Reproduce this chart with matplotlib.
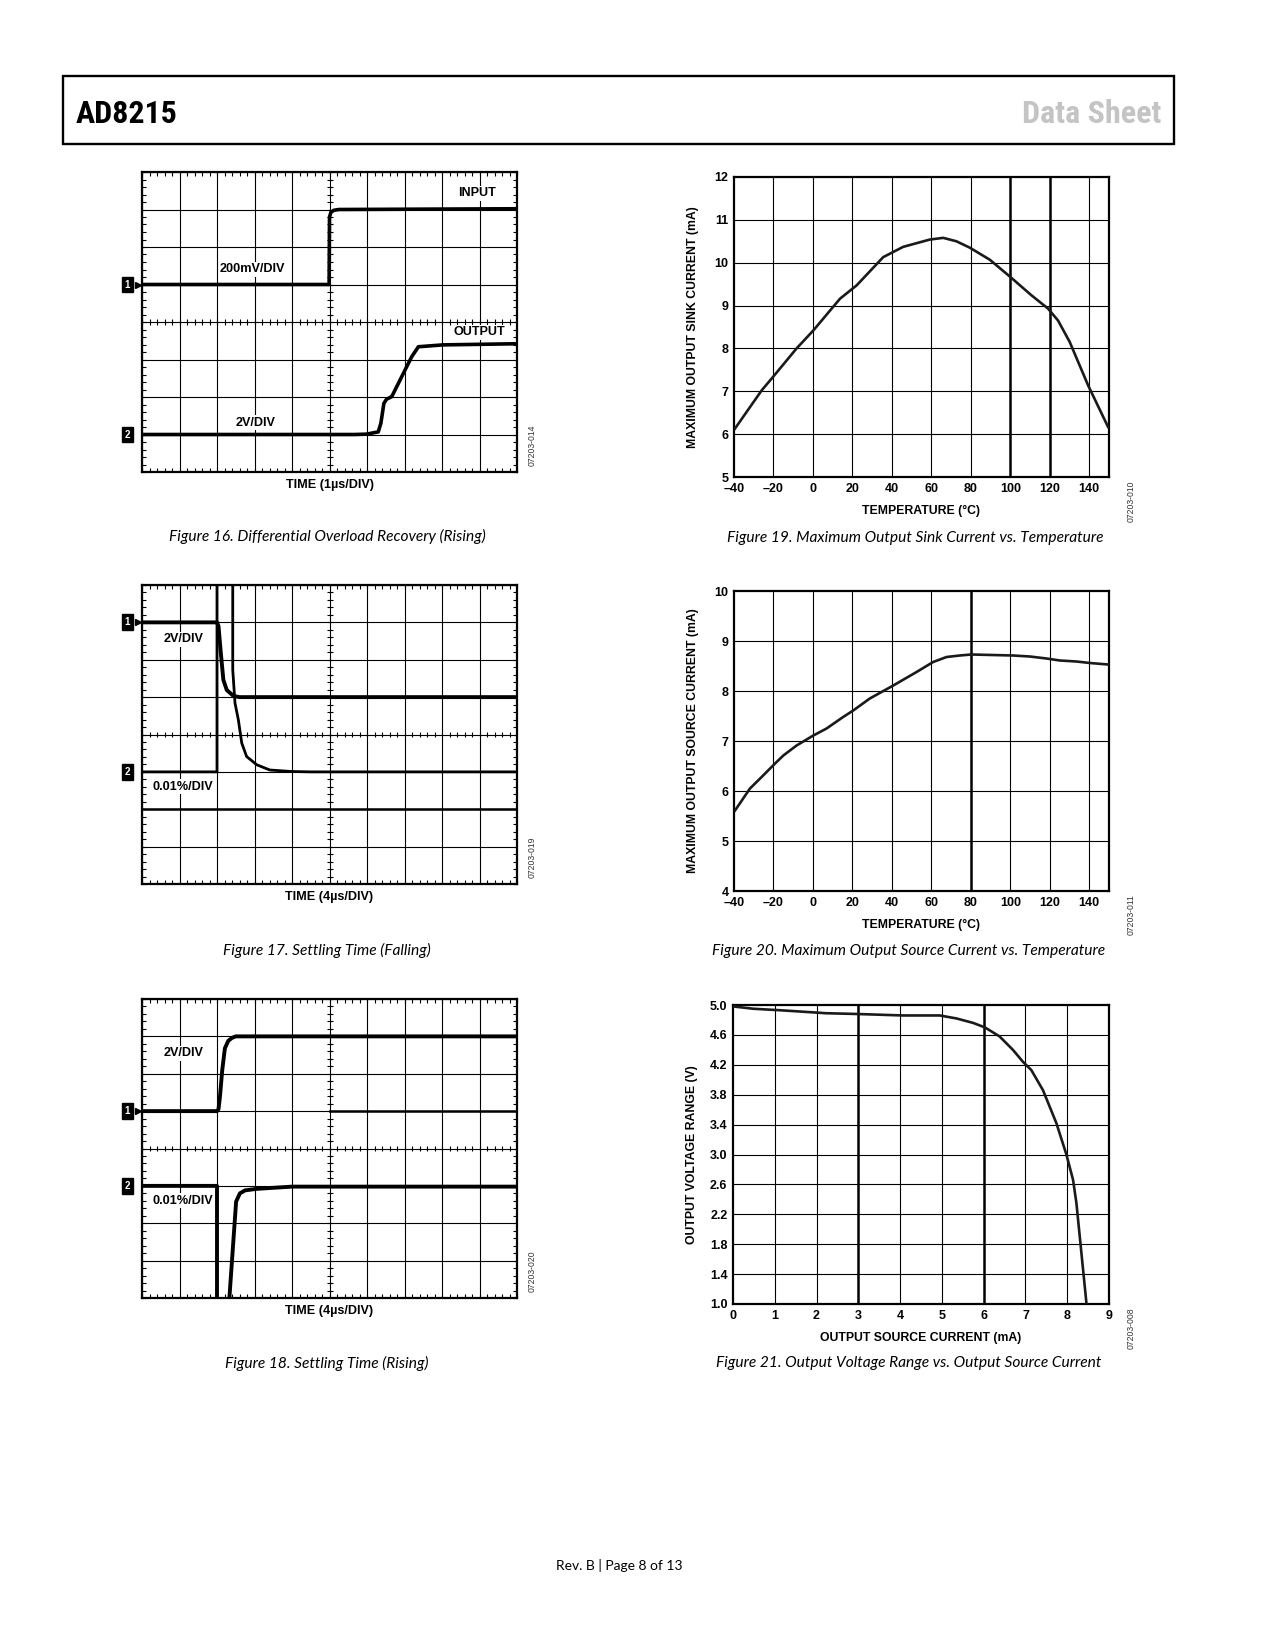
import numpy as np
import matplotlib
matplotlib.use("Agg")
import matplotlib.pyplot as plt
from matplotlib import font_manager
from matplotlib.collections import LineCollection
from matplotlib.patches import Rectangle
from matplotlib.transforms import blended_transform_factory

W, H = 1275, 1650

# ---- Figure 16: differential overload recovery (divisions) ----
fig16_in_t = [0, 4.99, 5.0, 5.04, 5.12, 5.25, 10]
fig16_in_v = [5.0, 5.0, 6.8, 6.93, 6.98, 7.0, 7.02]
fig16_out_t = [0, 5.68, 5.99, 6.3, 6.37, 6.45, 6.52, 6.66, 7.19, 7.37, 8.03, 10]
fig16_out_v = [1.0, 1.0, 1.01, 1.07, 1.3, 1.83, 1.94, 2.01, 3.07, 3.34, 3.39, 3.42]

# ---- Figure 17: settling time, falling ----
fig17_ch1_t = [0, 2.0, 2.04, 2.1, 2.17, 2.26, 2.44, 2.6, 10]
fig17_ch1_v = [7.0, 7.0, 6.9, 6.2, 5.46, 5.19, 5.03, 5.0, 5.0]
fig17_ch2_t = [0, 2.0, 2.0, 2.42, 2.42, 2.48, 2.57, 2.66, 2.79, 3.06, 3.41, 3.99, 4.5, 10]
fig17_ch2_v = [3.0, 3.0, 9.0, 9.0, 5.73, 4.84, 4.39, 3.77, 3.41, 3.19, 3.05, 3.01, 3.0, 3.0]

# ---- Figure 18: settling time, rising ----
fig18_ch1_t = [0, 2.0, 2.04, 2.08, 2.14, 2.21, 2.3, 2.4, 2.5, 10]
fig18_ch1_v = [5.0, 5.0, 5.05, 5.4, 6.1, 6.68, 6.88, 6.96, 7.0, 7.0]
fig18_ch2_t = [0, 2.0, 2.0, 2.33, 2.33, 2.51, 2.61, 2.75, 3.06, 4.0, 10]
fig18_ch2_v = [3.0, 3.0, -1.0, -1.0, 0.0, 2.58, 2.8, 2.88, 2.92, 2.98, 2.98]

# ---- Figure 19: max output sink current vs temperature ----
fig19_temp = [-39.5, -26, -19.6, -8.3, 0.2, 13.7, 22.1, 35.6, 45.7, 59.2, 66, 72.7,
              79.5, 89.6, 99.7, 110.7, 119.1, 124.2, 130.1, 139.4, 149.5]
fig19_ma = [6.13, 7.02, 7.37, 8.0, 8.42, 9.16, 9.47, 10.13, 10.37, 10.54, 10.58, 10.5,
            10.35, 10.07, 9.68, 9.24, 8.93, 8.65, 8.15, 7.14, 6.17]

# ---- Figure 20: max output source current vs temperature ----
fig20_temp = [-39.5, -31.9, -26, -19.2, -15, -8.3, 0.2, 6.9, 15.3, 20.4, 28.8, 40.7,
              52.5, 60.9, 67.7, 74.4, 80.3, 101.4, 109.9, 118.3, 125.1, 133.5, 140.3, 149.6]
fig20_ma = [5.61, 6.05, 6.28, 6.55, 6.71, 6.91, 7.11, 7.25, 7.48, 7.61, 7.85, 8.11,
            8.38, 8.58, 8.68, 8.71, 8.73, 8.71, 8.69, 8.65, 8.61, 8.59, 8.56, 8.53]

# ---- Figure 21: output voltage range vs output source current ----
fig21_ma = [0.02, 0.48, 1.12, 1.68, 2.23, 2.95, 4.07, 4.95, 5.35, 5.75, 6.03, 6.38,
            6.70, 6.94, 7.14, 7.42, 7.74, 7.98, 8.14, 8.22, 8.34, 8.46]
fig21_v = [4.98, 4.95, 4.93, 4.91, 4.89, 4.88, 4.86, 4.86, 4.82, 4.76, 4.70, 4.58,
           4.40, 4.24, 4.13, 3.86, 3.42, 3.0, 2.66, 2.35, 1.68, 1.01]

temp_ticks = [-40, -20, 0, 20, 40, 60, 80, 100, 120, 140]


def has_font(name):
    return any(f.name == name for f in font_manager.fontManager.ttflist)


def pick_narrow():
    for name in ['Liberation Sans Narrow', 'Roboto Condensed', 'Open Sans Condensed',
                 'DejaVu Sans Condensed', 'Noto Sans Condensed']:
        if has_font(name):
            return name, 'normal'
    for f in font_manager.fontManager.ttflist:
        if 'condensed' in str(f.stretch) and f.weight in ('bold', 700):
            return f.name, 'condensed'
    return 'Liberation Sans', 'normal'


SANS = 'Liberation Sans'
NARROW, NARROW_STRETCH = pick_narrow()
CAPF = 'Lato' if has_font('Lato') else 'Open Sans'

fig = plt.figure(figsize=(W / 100, H / 100), dpi=100)


def px_rect(x0, y0, x1, y1):
    return [x0 / W, 1 - y1 / H, (x1 - x0) / W, (y1 - y0) / H]


def ftext(x, y, s, **kw):
    fig.text(x / W, 1 - y / H, s, **kw)


def scope(rect, traces, marks, labels, time_label, code, thick=()):
    ax = fig.add_axes(px_rect(*rect))
    ax.set_xlim(0, 10)
    ax.set_ylim(0, 8)
    ax.set_xticks(range(11))
    ax.set_yticks(range(9))
    ax.set_xticks(np.arange(0, 10.01, 0.2), minor=True)
    ax.set_yticks(np.arange(0, 8.01, 0.2), minor=True)
    ax.tick_params(which='both', direction='in', top=True, right=True, length=3,
                   width=0.8, labelbottom=False, labelleft=False)
    ax.grid(which='major', color='black', lw=0.8)
    for s in ax.spines.values():
        s.set_linewidth(1.6)
    # center graticule ticks
    segs = [[(x, 3.93), (x, 4.07)] for x in np.arange(0, 10.01, 0.2)]
    segs += [[(4.92, y), (5.08, y)] for y in np.arange(0, 8.01, 0.2)]
    ax.add_collection(LineCollection(segs, colors='black', linewidths=0.8))
    for (x0, x1, y) in thick:
        ax.plot([x0, x1], [y, y], color='black', lw=1.8, zorder=2)
    for t, v, lw in traces:
        ax.plot(t, v, color='black', lw=lw, solid_capstyle='butt', zorder=3)
    tr = blended_transform_factory(ax.transAxes, ax.transData)
    for num, y, arrow in marks:
        ax.text(-0.039, y, num, transform=tr, ha='center', va='center', color='white',
                fontsize=7, fontweight='bold', family=SANS, clip_on=False,
                bbox=dict(boxstyle='square,pad=0.3', fc='black', ec='black'))
        if arrow:
            ax.plot([-0.012], [y], marker='>', ms=4.8, color='black', mec='black',
                    transform=tr, clip_on=False)
    for x, y, s in labels:
        ax.text(x, y, s, ha='center', va='center', fontsize=9.1, fontweight='bold',
                family=SANS, bbox=dict(fc='white', ec='none', pad=1))
    ax.text(0.5, -0.044, time_label, transform=ax.transAxes, ha='center', va='center',
            fontsize=9.1, fontweight='bold', family=SANS)
    ax.text(1.04, 0.09, code, transform=ax.transAxes, ha='center', va='center',
            rotation=90, fontsize=6.2, color='#333333', family=SANS)
    return ax


def curve(rect, x, y, xlim, ylim, xticks, yticks, ylabels, thick, xlabel, ylabel, code):
    ax = fig.add_axes(px_rect(*rect))
    ax.set_xlim(*xlim)
    ax.set_ylim(*ylim)
    ax.set_xticks(xticks)
    ax.set_yticks(yticks)
    ax.set_xticklabels([str(t).replace('-', '\u2013') for t in xticks])
    ax.set_yticklabels(ylabels)
    ax.tick_params(length=0, pad=4, labelsize=9)
    for lab in ax.get_xticklabels() + ax.get_yticklabels():
        lab.set_fontweight('bold')
        lab.set_family(SANS)
    for t in xticks[1:]:
        ax.axvline(t, color='black', lw=1.8 if t in thick else 0.8, zorder=1)
    for t in yticks[1:-1]:
        ax.axhline(t, color='black', lw=0.8, zorder=1)
    for s in ax.spines.values():
        s.set_linewidth(1.6)
    ax.plot(x, y, color='#1a1a1a', lw=1.9, zorder=3)
    ax.set_xlabel(xlabel, fontsize=8.8, fontweight='bold', family=SANS)
    ax.set_ylabel(ylabel, fontsize=8.8, fontweight='bold', family=SANS)
    ax.xaxis.set_label_coords(0.5, -0.092)
    ax.yaxis.set_label_coords(-0.094, 0.5)
    ax.text(1.06, -0.08, code, transform=ax.transAxes, ha='center', va='center',
            rotation=90, fontsize=6.2, color='#333333', family=SANS)
    return ax


# ---- left column: scope shots ----
scope((142, 172, 517, 472),
      [(fig16_in_t, fig16_in_v, 2.6), (fig16_out_t, fig16_out_v, 2.6)],
      [('1', 5, True), ('2', 1, False)],
      [(8.93, 7.43, 'INPUT'), (2.95, 5.41, '200mV/DIV'), (8.99, 3.73, 'OUTPUT'), (3.03, 1.31, '2V/DIV')],
      'TIME (1\u00b5s/DIV)', '07203-014')

scope((142, 585, 517, 884),
      [(fig17_ch1_t, fig17_ch1_v, 2.8), (fig17_ch2_t, fig17_ch2_v, 2.0)],
      [('1', 7, True), ('2', 3, False)],
      [(1.1, 6.55, '2V/DIV'), (1.1, 2.6, '0.01%/DIV')],
      'TIME (4\u00b5s/DIV)', '07203-019', thick=[(0, 10, 2)])

scope((142, 999, 517, 1298),
      [(fig18_ch1_t, fig18_ch1_v, 2.8), (fig18_ch2_t, fig18_ch2_v, 2.8)],
      [('1', 5, True), ('2', 3, False)],
      [(1.1, 6.55, '2V/DIV'), (1.1, 2.6, '0.01%/DIV')],
      'TIME (4\u00b5s/DIV)', '07203-020', thick=[(5, 10, 5)])

# ---- right column: characteristic curves ----
curve((734, 177, 1109, 477), fig19_temp, fig19_ma, (-40, 150), (5, 12),
      temp_ticks, list(range(5, 13)), [str(v) for v in range(5, 13)], (100, 120),
      'TEMPERATURE (\u00b0C)', 'MAXIMUM OUTPUT SINK CURRENT (mA)', '07203-010')

curve((734, 591, 1109, 891), fig20_temp, fig20_ma, (-40, 150), (4, 10),
      temp_ticks, list(range(4, 11)), [str(v) for v in range(4, 11)], (80,),
      'TEMPERATURE (\u00b0C)', 'MAXIMUM OUTPUT SOURCE CURRENT (mA)', '07203-011')

v_ticks = [1.0, 1.4, 1.8, 2.2, 2.6, 3.0, 3.4, 3.8, 4.2, 4.6, 5.0]
curve((733, 1005, 1109, 1304), fig21_ma, fig21_v, (0, 9), (1.0, 5.0),
      list(range(10)), v_ticks, ['%.1f' % v for v in v_ticks], (3, 6),
      'OUTPUT SOURCE CURRENT (mA)', 'OUTPUT VOLTAGE RANGE (V)', '07203-008')

# ---- captions ----
caps = [
    (327, 536, 'Figure 16. Differential Overload Recovery (Rising)'),
    (327, 950, 'Figure 17. Settling Time (Falling)'),
    (327, 1363, 'Figure 18. Settling Time (Rising)'),
    (915, 538, 'Figure 19. Maximum Output Sink Current vs. Temperature'),
    (909, 951, 'Figure 20. Maximum Output Source Current vs. Temperature'),
    (909, 1363, 'Figure 21. Output Voltage Range vs. Output Source Current'),
]
for x, y, s in caps:
    ftext(x, y, s, ha='center', va='center', fontsize=11.2, style='italic', family=CAPF)

# ---- page header / footer ----
fig.add_artist(Rectangle((63.3 / W, 1 - 144.3 / H), (1174.3 - 63.3) / W, (144.3 - 75.7) / H,
                         transform=fig.transFigure, fill=False, lw=1.7, ec='black'))
ftext(76, 122.7, 'AD8215', ha='left', va='baseline', fontsize=23, fontweight='bold',
      family=NARROW, fontstretch=NARROW_STRETCH)
ftext(1161, 122.7, 'Data Sheet', ha='right', va='baseline', fontsize=23, fontweight='bold',
      family=NARROW, fontstretch=NARROW_STRETCH, color='#c4c4c4')
ftext(619, 1566, 'Rev. B | Page 8 of 13', ha='center', va='center', fontsize=10, family=CAPF)

fig.savefig('out.png', dpi=100, facecolor='white')
